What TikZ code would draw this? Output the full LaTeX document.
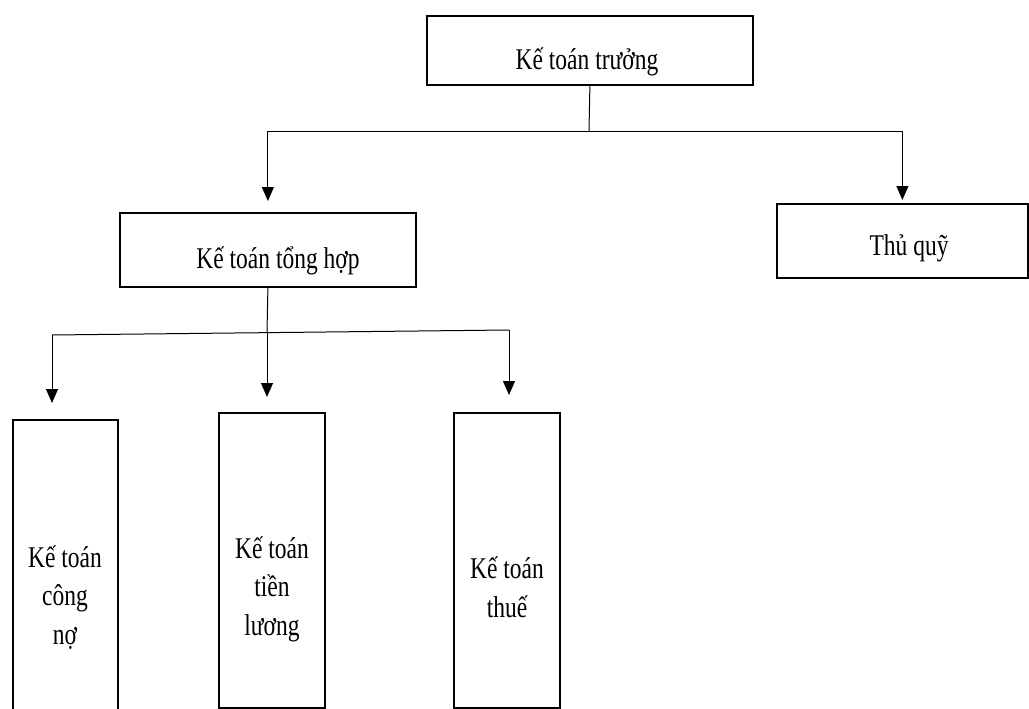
\documentclass[tikz,border=0pt]{standalone}
\usepackage{fontspec}
\usepackage{graphicx}
\setmainfont{Liberation Serif}
\usetikzlibrary{arrows.meta}
\newcommand\vstr[1]{\scalebox{1}[1.28]{#1}}
\begin{document}
\begin{tikzpicture}[x=1pt,y=-1pt,
 box/.style={draw, line width=1.8pt, inner sep=0pt, anchor=north west},
 lbl/.style={font=\fontsize{23.5}{38.5}\selectfont, align=center, anchor=base, inner sep=0pt},
 conn/.style={line width=1pt},
 arr/.style={conn, -{Triangle[width=12pt,length=14pt]}}]
\useasboundingbox (0,0) rectangle (1029,709);
% boxes
\node[box, minimum width=326pt, minimum height=69pt] (kt) at (426,15) {};
\node[box, minimum width=296pt, minimum height=74pt] (th) at (119,212) {};
\node[box, minimum width=251pt, minimum height=74pt] (tq) at (776,203) {};
\node[box, minimum width=105pt, minimum height=300pt] (b1) at (12,419) {};
\node[box, minimum width=106pt, minimum height=295pt] (b2) at (218,412) {};
\node[box, minimum width=106pt, minimum height=295pt] (b3) at (453,412) {};
% labels
\node[lbl] (tkt) at (587,70) {\vstr{Kế toán trưởng}};
\node[lbl] (tth) at (278,268) {\vstr{Kế toán tổng hợp}};
\node[lbl] (ttq) at (909,255) {\vstr{Thủ quỹ}};
\node[lbl] (t1) at (65,644) {\vstr{Kế toán}\\\vstr{công}\\\vstr{nợ}};
\node[lbl] (t2) at (272,635) {\vstr{Kế toán}\\\vstr{tiền}\\\vstr{lương}};
\node[lbl] (t3) at (507,617) {\vstr{Kế toán}\\\vstr{thuế}};
% connectors
\coordinate (j1) at (589,131);
\draw[conn] (kt.south) -- (j1);
\draw[arr, shorten >=11pt] (j1) -| (th.north);
\draw[arr, shorten >=3pt] (j1) -| (tq.north);
\coordinate (j2) at (267,332);
\coordinate (l1) at (52,335);
\coordinate (r1) at (509,330);
\draw[conn] (th.south) -- (j2);
\draw[conn] (l1) -- (r1);
\draw[arr, shorten >=16pt] (l1) -- (l1 |- b1.north);
\draw[arr, shorten >=15pt] (j2) -- (j2 |- b2.north);
\draw[arr, shorten >=17pt] (r1) -- (r1 |- b3.north);
\end{tikzpicture}
\end{document}
